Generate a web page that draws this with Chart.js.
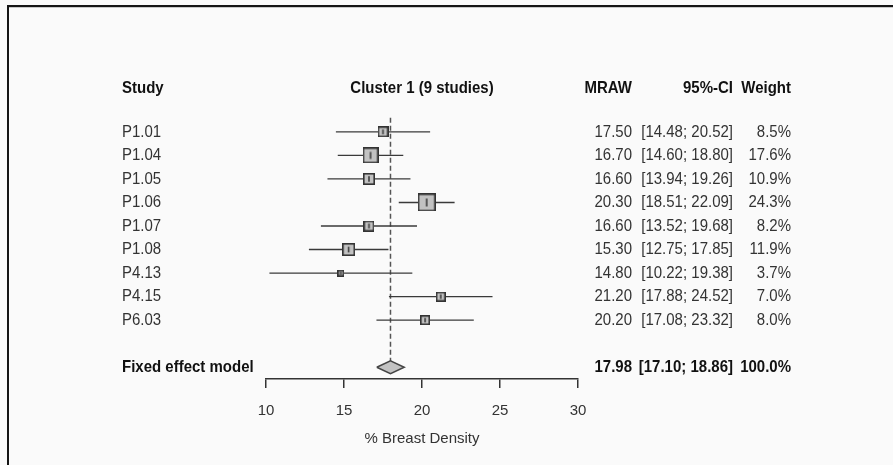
<!DOCTYPE html>
<html>
<head>
<meta charset="utf-8">
<script src="https://cdn.jsdelivr.net/npm/chart.js@4.4.1/dist/chart.umd.min.js"></script>
<style>
  html, body { margin: 0; padding: 0; background: #fafafa; }
  #frame {
    position: absolute; left: 7px; top: 5px; width: 900px; height: 470px;
    border-top: 2px solid #151515; border-left: 2px solid #151515;
    box-shadow: inset 0 1px 0 #c8c8c8;
  }
  #wrap { position: absolute; left: 0; top: 0; width: 893px; height: 465px; }
</style>
</head>
<body>
<div id="frame"></div>
<div id="wrap"><canvas id="forest"></canvas></div>
<script>
// studies in cluster 1
const studies = ['P1.01', 'P1.04', 'P1.05', 'P1.06', 'P1.07', 'P1.08', 'P4.13', 'P4.15', 'P6.03'];
const mraw = [17.50, 16.70, 16.60, 20.30, 16.60, 15.30, 14.80, 21.20, 20.20];
const ciLow = [14.48, 14.60, 13.94, 18.51, 13.52, 12.75, 10.22, 17.88, 17.08];
const ciHigh = [20.52, 18.80, 19.26, 22.09, 19.68, 17.85, 19.38, 24.52, 23.32];
const weights = [8.5, 17.6, 10.9, 24.3, 8.2, 11.9, 3.7, 7.0, 8.0];

// pooled estimate
const fixedLabel = 'Fixed effect model';
const fixedMean = 17.98;
const fixedLow = 17.10;
const fixedHigh = 18.86;
const fixedWeight = 100.0;

const summaryRow = studies.length + 1;
const diamondHalf = 0.27;

const FONT = "'Liberation Sans', Arial, sans-serif";
const DARK = '#333333';
const STRETCH = 1.15;

// grey boxes, area proportional to the weight
function makeBox(w) {
    const side = Math.round(3.7 * Math.sqrt(w));
    const c = document.createElement('canvas');
    c.width = side; c.height = side;
    const g = c.getContext('2d');
    g.fillStyle = '#c2c2c2';
    g.fillRect(0, 0, side, side);
    g.strokeStyle = '#333';
    g.lineWidth = 1.6;
    g.strokeRect(0.8, 0.8, side - 1.6, side - 1.6);
    g.beginPath();
    g.moveTo(side / 2, side * 0.28);
    g.lineTo(side / 2, side * 0.72);
    g.lineWidth = 1.5;
    g.stroke();
    return c;
}
const boxes = weights.map(makeBox);

const ciSets = studies.map((s, i) => ({
    type: 'line',
    label: s,
    data: [{x: ciLow[i], y: i}, {x: ciHigh[i], y: i}],
    borderColor: '#3a3a3a',
    borderWidth: 1.4,
    pointRadius: 0,
    order: 2
}));

const data = {
    datasets: [
        {
            type: 'scatter',
            label: 'MRAW',
            data: mraw.map((m, i) => ({x: m, y: i})),
            pointStyle: (ctx) => boxes[ctx.dataIndex],
            pointRadius: 6,
            order: 0
        },
        ...ciSets,
        {
            type: 'line',
            label: 'fixed',
            data: [{x: fixedMean, y: -0.6}, {x: fixedMean, y: summaryRow - diamondHalf}],
            borderColor: '#555',
            borderWidth: 1.5,
            borderDash: [5, 3],
            pointRadius: 0,
            order: 3
        },
        {
            type: 'line',
            label: 'diamond',
            data: [
                {x: fixedLow, y: summaryRow},
                {x: fixedMean, y: summaryRow - diamondHalf},
                {x: fixedHigh, y: summaryRow},
                {x: fixedMean, y: summaryRow + diamondHalf},
                {x: fixedLow, y: summaryRow}
            ],
            borderColor: '#444',
            borderWidth: 1.5,
            backgroundColor: '#c2c2c2',
            fill: 'shape',
            pointRadius: 0,
            tension: 0,
            order: 1
        }
    ]
};

// text a little taller than wide, like the R device output
function tallText(ctx, text, x, y) {
    ctx.save();
    ctx.translate(x, y);
    ctx.scale(1, STRETCH);
    ctx.fillText(text, 0, 0);
    ctx.restore();
}

// study labels and the numeric columns
const tablePlug = {
    id: 'table',
    afterDraw(chart) {
        const ctx = chart.ctx;
        const y = chart.scales.y;
        const area = chart.chartArea;
        const colMean = 632, colCI = 733, colW = 791, colStudy = 122;
        ctx.save();
        ctx.textBaseline = 'middle';

        const hy = y.getPixelForValue(-1.87);
        ctx.fillStyle = '#111';
        ctx.font = 'bold 15px ' + FONT;
        ctx.textAlign = 'left';
        tallText(ctx, 'Study', colStudy, hy);
        ctx.textAlign = 'center';
        tallText(ctx, 'Cluster 1 (' + studies.length + ' studies)', (area.left + area.right) / 2, hy);
        ctx.textAlign = 'right';
        tallText(ctx, 'MRAW', colMean, hy);
        tallText(ctx, '95%-CI', colCI, hy);
        tallText(ctx, 'Weight', colW, hy);

        ctx.fillStyle = DARK;
        ctx.font = '15px ' + FONT;
        studies.forEach((s, i) => {
            const py = y.getPixelForValue(i);
            ctx.textAlign = 'left';
            tallText(ctx, s, colStudy, py);
            ctx.textAlign = 'right';
            tallText(ctx, mraw[i].toFixed(2), colMean, py);
            tallText(ctx, '[' + ciLow[i].toFixed(2) + '; ' + ciHigh[i].toFixed(2) + ']', colCI, py);
            tallText(ctx, weights[i].toFixed(1) + '%', colW, py);
        });

        const sy = y.getPixelForValue(summaryRow);
        ctx.fillStyle = '#111';
        ctx.font = 'bold 15px ' + FONT;
        ctx.textAlign = 'left';
        tallText(ctx, fixedLabel, colStudy, sy);
        ctx.textAlign = 'right';
        tallText(ctx, fixedMean.toFixed(2), colMean, sy);
        tallText(ctx, '[' + fixedLow.toFixed(2) + '; ' + fixedHigh.toFixed(2) + ']', colCI, sy);
        tallText(ctx, fixedWeight.toFixed(1) + '%', colW, sy);
        ctx.restore();
    }
};

const options = {
    responsive: true,
    maintainAspectRatio: false,
    animation: false,
    events: [],
    layout: {padding: {left: 266, right: 315, top: 73, bottom: 0}},
    plugins: {legend: {display: false}, tooltip: {enabled: false}},
    scales: {
        x: {
            type: 'linear',
            min: 10,
            max: 30,
            afterFit: (scale) => { scale.height = 86; },
            ticks: {stepSize: 5, color: DARK, padding: 14, font: {family: FONT, size: 15}},
            grid: {drawOnChartArea: false, drawTicks: true, tickLength: 9, color: DARK, lineWidth: 1.5},
            border: {display: true, color: DARK, width: 1.6},
            title: {display: true, text: '% Breast Density', color: DARK,
                    font: {family: FONT, size: 15}, padding: {top: 0, bottom: 17}}
        },
        y: {
            type: 'linear',
            reverse: true,
            min: -2.5,
            max: summaryRow + 0.5,
            display: false
        }
    }
};

new Chart(document.getElementById('forest'), {data: data, options: options, plugins: [tablePlug]});
</script>
</body>
</html>
